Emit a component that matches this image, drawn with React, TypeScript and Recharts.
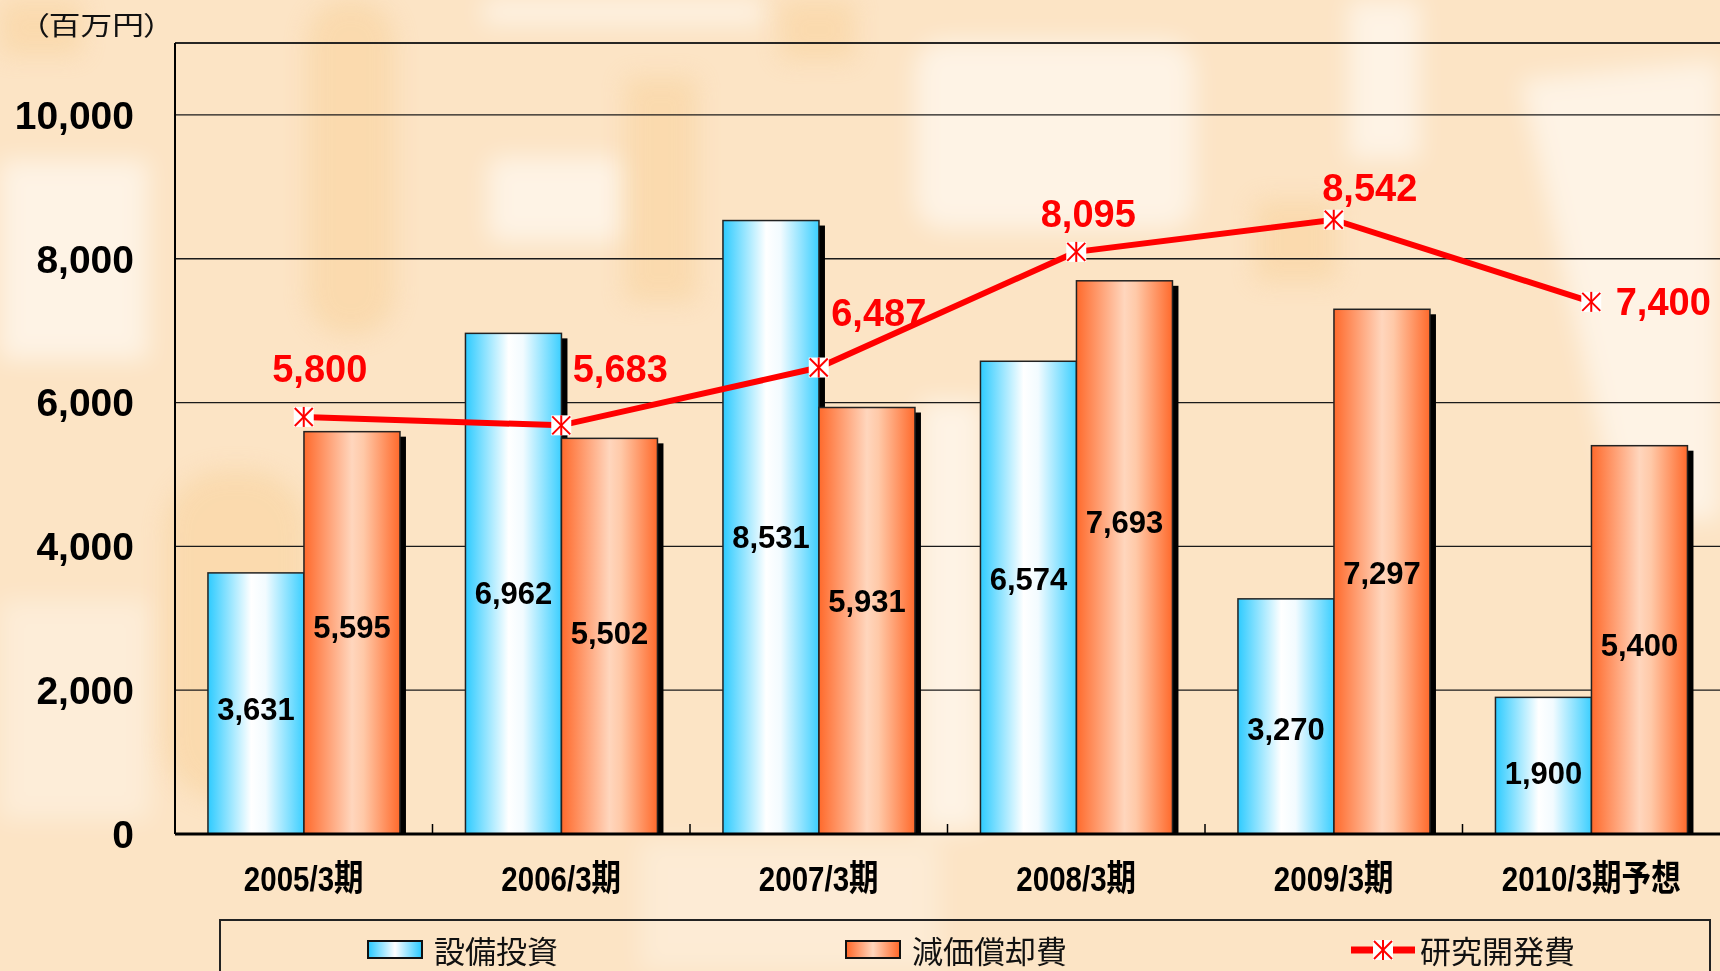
import {
  ComposedChart,
  Bar,
  Line,
  XAxis,
  YAxis,
  CartesianGrid,
  LabelList,
  ReferenceLine,
} from 'recharts';

const periods = ['2005/3期', '2006/3期', '2007/3期', '2008/3期', '2009/3期', '2010/3期予想'];
const capex = [3631, 6962, 8531, 6574, 3270, 1900];
const depreciation = [5595, 5502, 5931, 7693, 7297, 5400];
const rnd = [5800, 5683, 6487, 8095, 8542, 7400];
const yTicks = [0, 2000, 4000, 6000, 8000, 10000];

const data = periods.map((period, i) => ({
  period,
  capex: capex[i],
  depreciation: depreciation[i],
  rnd: rnd[i],
}));

// label nudges (px) as placed by hand in the original
const rndLabelShift = [
  [16, -48],
  [59, -56],
  [60, -55],
  [12, -38],
  [36, -32],
  [72, 0],
];
const capexLabelShift = [6, 10, 10, -18, 13, 8];
const depLabelShift = [-5, -3, -19, -35, 2, 6];

const latin = "'Liberation Sans', Arial, 'Noto Sans CJK JP', sans-serif";
const cjk = "'Noto Sans CJK JP', sans-serif";

const fmt = (v: number) => String(v).replace(/\B(?=(\d{3})+(?!\d))/g, ',');

const ShadowBar = (props: any) => {
  const { x, y, width, height, gradient } = props;
  if (!height || height <= 0) return null;
  return (
    <g>
      <rect x={x + 6} y={y + 5} width={width} height={height - 5} fill="#000" />
      <rect
        x={x}
        y={y}
        width={width}
        height={height}
        fill={`url(#${gradient})`}
        stroke="#222"
        strokeWidth={1.5}
      />
    </g>
  );
};

const StarMarker = (props: any) => {
  const { cx, cy } = props;
  if (cx == null || cy == null) return null;
  return (
    <g>
      <rect x={cx - 10} y={cy - 10} width={20} height={20} fill="#fff" />
      <line x1={cx} y1={cy - 10} x2={cx} y2={cy + 10} stroke="#f00" strokeWidth={2} />
      <line x1={cx - 9} y1={cy - 9} x2={cx + 9} y2={cy + 9} stroke="#f00" strokeWidth={2} />
      <line x1={cx + 9} y1={cy - 9} x2={cx - 9} y2={cy + 9} stroke="#f00" strokeWidth={2} />
    </g>
  );
};

const RndLabel = (props: any) => {
  const { x, y, value, index } = props;
  const [dx, dy] = rndLabelShift[index] || [0, -40];
  return (
    <text
      x={x + dx}
      y={y + dy}
      textAnchor="middle"
      dominantBaseline="central"
      fill="#ff0000"
      fontSize={38}
      fontWeight={700}
      fontFamily={latin}
    >
      {fmt(value)}
    </text>
  );
};

const makeBarLabel = (shifts: number[]) => (props: any) => {
  const { x, y, width, height, value, index } = props;
  return (
    <text
      x={x + width / 2}
      y={y + height / 2 + (shifts[index] || 0)}
      textAnchor="middle"
      dominantBaseline="central"
      fill="#000"
      fontSize={31}
      fontWeight={700}
      fontFamily={latin}
    >
      {fmt(value)}
    </text>
  );
};
const CapexLabel = makeBarLabel(capexLabelShift);
const DepLabel = makeBarLabel(depLabelShift);

const PeriodTick = (props: any) => {
  const { x, y, payload } = props;
  const half = payload.offset || 128.7;
  const axisY = y - 30;
  return (
    <g>
      <text
        transform={`translate(${x},${y + 27}) scale(0.82,1)`}
        textAnchor="middle"
        fill="#000"
        fontSize={36}
        fontWeight={700}
        fontFamily={latin}
      >
        {payload.value}
      </text>
      {payload.index < periods.length - 1 && (
        <line
          x1={x + half}
          x2={x + half}
          y1={axisY}
          y2={axisY - 10}
          stroke="#000"
          strokeWidth={1.5}
        />
      )}
    </g>
  );
};

function Swatch({ colors }: { colors: string }) {
  return (
    <div
      style={{
        width: 56,
        height: 19,
        boxSizing: 'border-box',
        border: '2px solid #111',
        background: colors,
      }}
    />
  );
}

// faint watermark behind the chart
function Backdrop() {
  return (
    <svg width={1720} height={971} style={{ position: 'absolute', left: 0, top: 0 }}>
      <defs>
        <filter id="soft" x="-20%" y="-20%" width="140%" height="140%">
          <feGaussianBlur stdDeviation="12" />
        </filter>
      </defs>
      <rect width={1720} height={971} fill="#fce4c5" />
      <g filter="url(#soft)" fill="#ffffff" opacity={0.55}>
        <rect x={0} y={160} width={148} height={200} />
        <rect x={0} y={600} width={150} height={220} opacity={0.6} />
        <rect x={483} y={0} width={280} height={24} />
        <rect x={915} y={40} width={280} height={190} rx={30} />
        <rect x={1348} y={0} width={72} height={160} />
        <rect x={488} y={157} width={137} height={85} rx={12} />
        <rect x={920} y={400} width={62} height={430} />
        <polygon points="1520,80 1720,60 1720,520 1620,520" />
        <rect x={640} y={840} width={300} height={131} opacity={0.5} />
      </g>
      <g filter="url(#soft)" fill="#f7c47c" opacity={0.3}>
        <rect x={0} y={0} width={82} height={55} />
        <rect x={307} y={0} width={88} height={335} rx={40} />
        <rect x={625} y={77} width={72} height={225} />
        <rect x={1255} y={200} width={82} height={82} />
        <rect x={165} y={470} width={142} height={330} rx={60} />
        <rect x={780} y={0} width={75} height={60} />
      </g>
    </svg>
  );
}

export default function App() {
  return (
    <div
      style={{
        position: 'absolute',
        left: 0,
        top: 0,
        width: 1720,
        height: 971,
        overflow: 'hidden',
        background: '#fce4c5',
      }}
    >
      <Backdrop />
      <div
        style={{
          position: 'absolute',
          left: 33,
          top: 9,
          fontSize: 26,
          lineHeight: '30px',
          fontFamily: cjk,
          fontFeatureSettings: "'palt'",
          color: '#111',
          transform: 'scale(1.22,1)',
          transformOrigin: 'left top',
        }}
      >
        （百万円）
      </div>

      <ComposedChart
        width={1720}
        height={971}
        data={data}
        margin={{ top: 43, right: 0, bottom: 67, left: 0 }}
        barCategoryGap="12.8%"
        barGap={0}
      >
        <defs>
          <linearGradient id="blueBar" x1="0" y1="0" x2="1" y2="0">
            <stop offset="0%" stopColor="#2ecbff" />
            <stop offset="45%" stopColor="#ffffff" />
            <stop offset="60%" stopColor="#f2fbff" />
            <stop offset="100%" stopColor="#3ccfff" />
          </linearGradient>
          <linearGradient id="orangeBar" x1="0" y1="0" x2="1" y2="0">
            <stop offset="0%" stopColor="#ff6a2c" />
            <stop offset="50%" stopColor="#ffd6bd" />
            <stop offset="62%" stopColor="#ffc9a8" />
            <stop offset="100%" stopColor="#ff6a2c" />
          </linearGradient>
        </defs>
        <CartesianGrid vertical={false} stroke="#1a1a1a" strokeWidth={1.3} />
        <ReferenceLine y={11000} stroke="#1a1a1a" strokeWidth={1.5} />
        <XAxis
          dataKey="period"
          height={70}
          interval={0}
          tickSize={0}
          tickMargin={30}
          tickLine={false}
          axisLine={{ stroke: '#000', strokeWidth: 3 }}
          tick={<PeriodTick />}
        />
        <YAxis
          width={175}
          domain={[0, 11000]}
          ticks={yTicks}
          interval={0}
          tickSize={0}
          tickMargin={41}
          tickLine={false}
          axisLine={{ stroke: '#000', strokeWidth: 2 }}
          tickFormatter={fmt}
          tick={{ fontSize: 39, fontWeight: 700, fill: '#000', fontFamily: latin }}
        />
        <Bar
          dataKey="capex"
          name="設備投資"
          isAnimationActive={false}
          shape={<ShadowBar gradient="blueBar" />}
        >
          <LabelList dataKey="capex" content={<CapexLabel />} />
        </Bar>
        <Bar
          dataKey="depreciation"
          name="減価償却費"
          isAnimationActive={false}
          shape={<ShadowBar gradient="orangeBar" />}
        >
          <LabelList dataKey="depreciation" content={<DepLabel />} />
        </Bar>
        <Line
          type="linear"
          dataKey="rnd"
          name="研究開発費"
          stroke="#ff0000"
          strokeWidth={6}
          dot={<StarMarker />}
          activeDot={false}
          isAnimationActive={false}
        >
          <LabelList dataKey="rnd" content={<RndLabel />} />
        </Line>
      </ComposedChart>

      <div
        style={{
          position: 'absolute',
          left: 219,
          top: 919,
          width: 1492,
          height: 80,
          boxSizing: 'border-box',
          border: '2px solid #222',
          fontFamily: cjk,
          fontSize: 31,
          color: '#111',
        }}
      >
        <div style={{ position: 'absolute', left: 146, top: 6, display: 'flex', alignItems: 'center', gap: 11 }}>
          <Swatch colors="linear-gradient(to right, #2ecbff, #ffffff 50%, #2ecbff)" />
          <span>設備投資</span>
        </div>
        <div style={{ position: 'absolute', left: 624, top: 6, display: 'flex', alignItems: 'center', gap: 11 }}>
          <Swatch colors="linear-gradient(to right, #ff6a2c, #ffd6bd 50%, #ff6a2c)" />
          <span>減価償却費</span>
        </div>
        <div style={{ position: 'absolute', left: 1130, top: 6, display: 'flex', alignItems: 'center', gap: 5 }}>
          <svg width={64} height={24}>
            <line x1={0} y1={12} x2={64} y2={12} stroke="#ff0000" strokeWidth={7} />
            <StarMarker cx={32} cy={12} />
          </svg>
          <span>研究開発費</span>
        </div>
      </div>
    </div>
  );
}
